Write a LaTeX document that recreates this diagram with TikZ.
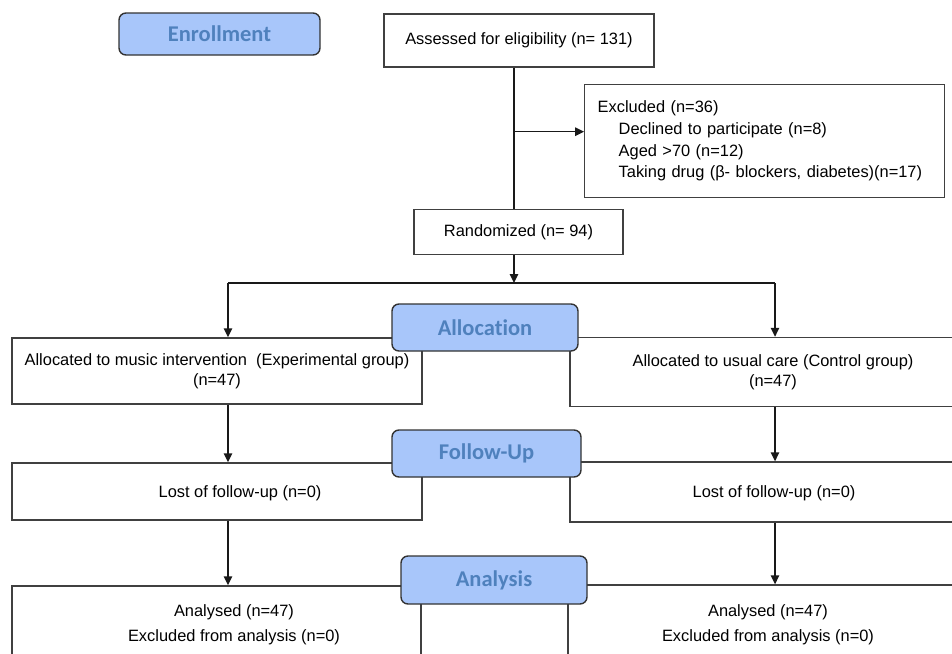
\documentclass[tikz,border=0pt]{standalone}
\usepackage{fontspec}
\setmainfont{Liberation Sans}
\newfontfamily\stagefont[Ligatures = NoCommon]{Carlito}
\usetikzlibrary{arrows.meta, calc, positioning}
\definecolor{stageFill}{RGB}{168, 198, 250}
\definecolor{stageText}{RGB}{79, 129, 189}
\definecolor{boxLine}{RGB}{64, 64, 64}
\tikzset{
	box/.style = {draw = boxLine, line width = 1.4pt, fill = white, inner sep = 0pt, align = center, font = \fontsize{16.4}{20}\selectfont},
	stage/.style = {draw = boxLine!80!black, line width = 1.4pt, fill = stageFill, rounded corners = 7pt, inner sep = 0pt, text = stageText, font = \stagefont\bfseries\fontsize{22.5}{26}\selectfont, minimum width = 186pt, minimum height = 47pt},
	txt/.style = {inner sep = 0pt, align = center, font = \fontsize{16.4}{25}\selectfont},
	flow/.style = {line width = 1.4pt, draw = black!90},
	arr/.style = {flow, -{Triangle[length = 9pt, width = 8.5pt]}}
}

\begin{document}
\begin{tikzpicture}[x = 1pt, y = -1pt]

	\useasboundingbox (0,0) rectangle (952,653);
	\clip (0,0) rectangle (952,653);

	% enrollment
	\node[box, minimum width = 270pt, minimum height = 53pt] (assessed) at (519,40.5) {Assessed for eligibility (n= 131)};
	\node[box, anchor = north west, text width = 334pt, inner xsep = 13pt, minimum height = 113pt, align = left, font = \fontsize{16.4}{21.7}\selectfont] (excluded) at (584,84) {Excluded (n=36)\\
		\hspace*{21pt}Declined to participate (n=8)\\
		\hspace*{21pt}Aged >70 (n=12)\\
		\hspace*{21pt}Taking drug (β- blockers, diabetes)(n=17)};
	\node[box, minimum width = 209pt, minimum height = 45pt] (rand) at (518.5,232) {Randomized (n= 94)};

	% the two arms
	\node[box, minimum width = 410pt, minimum height = 66pt] (allocL) at (217,371) {Allocated to music intervention~ (Experimental group)\\(n=47)};
	\node[box, minimum width = 406pt, minimum height = 69pt] (allocR) at (773,372) {Allocated to usual care (Control group)\\(n=47)};

	\node[box, minimum width = 410pt, minimum height = 57pt] (lostL) at (217,491.5) {};
	\node[box, minimum width = 406pt, minimum height = 60pt] (lostR) at (773,492) {};
	\node[txt] (lostLtxt) at (240,493) {Lost of follow-up (n=0)};
	\node[txt] (lostRtxt) at (774,493) {Lost of follow-up (n=0)};

	\node[box, minimum width = 409pt, minimum height = 114pt] (anaL) at (216.5,643) {};
	\node[box, minimum width = 408pt, minimum height = 115pt] (anaR) at (772,642.5) {};
	\node[txt] (anaLtxt) at (234,624.5) {Analysed (n=47)\\Excluded from analysis (n=0)};
	\node[txt] (anaRtxt) at (768,624.5) {Analysed (n=47)\\Excluded from analysis (n=0)};

	% connectors
	\coordinate (fork) at (514,283);
	\coordinate (colL) at (228,283);
	\coordinate (colR) at (775,283);

	\draw[flow] ([xshift = -5pt]assessed.south) -- ([xshift = -4.5pt]rand.north);
	\draw[arr] ([xshift = -5pt]assessed.south |- excluded.west) ++(0,-9.5) -- ($ (excluded.west)+(0,-9.5) $);
	\draw[arr] ([xshift = -4.5pt]rand.south) -- (fork);
	\draw[flow] (colL) -- (colR);
	\draw[arr] (colL) -- (colL |- allocL.north);
	\draw[arr] (colR) -- (colR |- allocR.north);
	\draw[arr] (colL |- allocL.south) -- (colL |- lostL.north);
	\draw[arr] (colR |- allocR.south) -- (colR |- lostR.north);
	\draw[arr] (colL |- lostL.south) -- (colL |- anaL.north);
	\draw[arr] (colR |- lostR.south) -- (colR |- anaR.north);

	% stage labels
	\node[stage, minimum width = 201pt, minimum height = 42pt] (enroll) at (219.5,34) {Enrollment};
	\node[stage] (allocation) at (485,327.5) {Allocation};
	\node[stage, minimum width = 189pt] (followup) at (486.5,453.5) {Follow-Up};
	\node[stage, minimum height = 48pt] (analysis) at (494,580) {Analysis};

\end{tikzpicture}
\end{document}
